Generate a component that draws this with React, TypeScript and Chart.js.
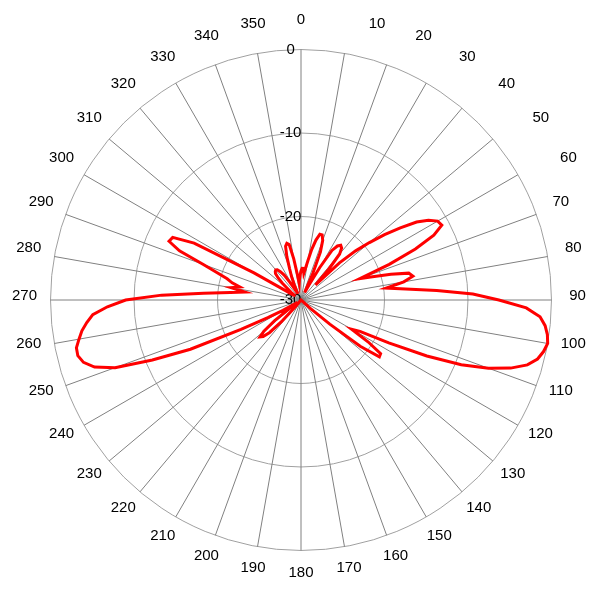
import React, { useEffect, useRef } from 'react';
import { Chart, registerables } from 'chart.js';

Chart.register(...registerables);

// Angle categories (degrees, clockwise from top), every 2°
const angleLabels: string[] = Array.from({ length: 180 }, (_, i) => String(i * 2));

// Gain in dB read from the pattern, 2° steps
// 0° .. 88°
const gain0to88 = [
  -26.5, -26.2, -26.2, -26.8, -26.2, -25.2, -23.8, -22.6, -21.8, -21.8,
  -22.4, -23.8, -26.5, -29, -28, -25.5, -23, -22.2, -21.9, -22.1,
  -22.8, -25, -27.5, -23.6, -21.2, -19.3, -17.3, -15.3, -13.3, -12,
  -11.1, -10.9, -12.3, -15, -18.6, -22.5, -21, -18.8, -16.7, -16.3,
  -17.5, -19.7, -17.4, -13.7, -9.4,
];
// 90° .. 178°
const gain90to178 = [
  -6.3, -3.0, -1.3, -0.6, -0.2, 0, -0.3, -0.8, -1.8, -3.6,
  -6.1, -9.3, -13.5, -18.3, -22, -23, -20.5, -18.5, -18.4, -21,
  -25.5, -28.5, -30, -30, -30, -30, -30, -30, -30, -30,
  -30, -30, -30, -30, -30, -30, -30, -30, -30, -30,
  -30, -30, -30, -30, -30,
];
// 180° .. 268°
const gain180to268 = [
  -30, -30, -30, -30, -30, -30, -30, -30, -30, -30,
  -30, -30, -30, -30, -30, -30, -30, -30, -30, -30,
  -29, -26.5, -24.6, -23.7, -23.4, -24.2, -26, -28.5, -29.5, -29,
  -27.5, -25.5, -22, -15.5, -10.8, -6.3, -4.0, -2.9, -2.45, -2.5,
  -3.0, -3.5, -4.2, -5.0, -6.8,
];
// 270° .. 358°
const gain270to358 = [
  -9.0, -13.3, -18.3, -21.5, -23.2, -21.5, -22.5, -21.5, -20.8, -19.5,
  -17.5, -14.3, -12.7, -12.9, -15.5, -23.5, -28.5, -29, -29, -28.5,
  -28, -27, -26.2, -25.6, -25.4, -25.3, -25.4, -25.8, -26.4, -27.5,
  -28.5, -29, -29, -28, -27, -26, -24.5, -23.3, -23.0, -23.2,
  -25, -27, -28, -27.5, -27,
];

const gainValues = [...gain0to88, ...gain90to178, ...gain180to268, ...gain270to358];

const R_MIN = -30;
const R_MAX = 0;
const R_STEP = 10;

const FONT = 'Arial, "Liberation Sans", sans-serif';
const LABEL_FONT_SIZE = 15;

// Centre the angle labels on a circle just outside the outer ring
const centeredPointLabels = {
  id: 'centeredPointLabels',
  afterLayout(chart: any) {
    const scale = chart.scales.r;
    const items = scale && scale._pointLabelItems;
    if (!items) return;
    const lineHeight = LABEL_FONT_SIZE * 1.2;
    for (let i = 0; i < items.length; i++) {
      const item = items[i];
      const deg = i * 2;
      const pos = scale.getPointPosition(i, scale.drawingArea + 26);
      const shiftX = deg >= 10 && deg <= 60 ? 28 : 0;
      item.x = pos.x + shiftX;
      item.y = pos.y - 4 - lineHeight / 2;
      item.textAlign = 'center';
    }
  },
};

export default function App() {
  const canvasRef = useRef<HTMLCanvasElement | null>(null);

  useEffect(() => {
    const canvas = canvasRef.current;
    if (!canvas) return;
    const chart = new Chart(canvas, {
      type: 'radar',
      data: {
        labels: angleLabels,
        datasets: [
          {
            data: gainValues,
            borderColor: '#ff0000',
            borderWidth: 3,
            pointRadius: 0,
            pointHoverRadius: 0,
            fill: false,
            tension: 0,
          },
        ],
      },
      options: {
        responsive: false,
        animation: false,
        devicePixelRatio: 1,
        layout: { padding: 8 },
        plugins: {
          legend: { display: false },
          tooltip: { enabled: false },
        },
        scales: {
          r: {
            min: R_MIN,
            max: R_MAX,
            startAngle: 0,
            ticks: {
              stepSize: R_STEP,
              showLabelBackdrop: false,
              color: '#000000',
              font: { size: 15, family: FONT },
              callback: (v: any) => String(v) + '     ',
            },
            grid: {
              circular: true,
              color: '#a0a0a0',
              lineWidth: 1,
            },
            angleLines: {
              display: true,
              color: '#808080',
              lineWidth: (ctx: any) => (ctx.index % 5 === 0 ? 1 : 0),
            },
            pointLabels: {
              display: true,
              color: '#000000',
              font: { size: LABEL_FONT_SIZE, family: FONT },
              padding: 7,
              callback: (label: string, index: number) => (index % 5 === 0 ? label : ''),
            },
          },
        },
      },
      plugins: [centeredPointLabels],
    });
    return () => chart.destroy();
  }, []);

  return (
    <canvas
      ref={canvasRef}
      width={600}
      height={600}
      style={{ position: 'absolute', left: 0, top: 0, width: 600, height: 600 }}
    />
  );
}
